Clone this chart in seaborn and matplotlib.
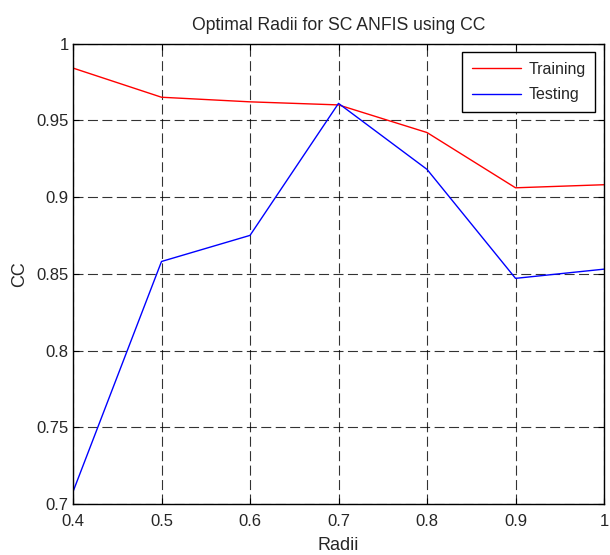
import matplotlib
matplotlib.use("Agg")
import matplotlib.pyplot as plt
import seaborn as sns
import pandas as pd

radii = [0.4, 0.5, 0.6, 0.7, 0.8, 0.9, 1.0]
training = [0.984, 0.965, 0.962, 0.960, 0.942, 0.906, 0.908]
testing = [0.708, 0.858, 0.875, 0.961, 0.918, 0.847, 0.853]
xticks = [0.4, 0.5, 0.6, 0.7, 0.8, 0.9, 1.0]
xticklabels = ["0.4", "0.5", "0.6", "0.7", "0.8", "0.9", "1"]
yticks = [0.7, 0.75, 0.8, 0.85, 0.9, 0.95, 1.0]
yticklabels = ["0.7", "0.75", "0.8", "0.85", "0.9", "0.95", "1"]

df = pd.DataFrame({
    "Radii": radii * 2,
    "CC": training + testing,
    "Set": ["Training"] * len(radii) + ["Testing"] * len(radii),
})

sns.set_style("white")
plt.rcParams['font.family'] = ['Liberation Sans', 'DejaVu Sans']

fig = plt.figure(figsize=(6.10, 5.55), dpi=100)
ax = fig.add_axes([0.1197, 0.0919, 0.8705, 0.8297])

sns.lineplot(data=df, x="Radii", y="CC", hue="Set",
             palette={"Training": "#ff0000", "Testing": "#0000ff"},
             linewidth=1.0, ax=ax)

ax.set_xlim(0.4, 1.0)
ax.set_ylim(0.7, 1.0)
ax.set_xticks(xticks)
ax.set_xticklabels(xticklabels, fontsize=12)
ax.set_yticks(yticks)
ax.set_yticklabels(yticklabels, fontsize=12)
ax.grid(True, linestyle=(0, (9, 4)), color="black", linewidth=0.8, alpha=0.8)
ax.set_axisbelow(True)
for s in ax.spines.values():
    s.set_color("black")
    s.set_linewidth(1.0)
ax.tick_params(direction="in", length=4, color="black",
               top=True, right=True, bottom=True, left=True)
ax.tick_params(axis="x", pad=7)
ax.tick_params(axis="y", pad=3)

ax.set_xlabel("Radii", fontsize=13, labelpad=6)
ax.set_ylabel("CC", fontsize=13, labelpad=6)
ax.set_title("Optimal Radii for SC ANFIS using CC", fontsize=12.7, pad=10)

leg = ax.legend(loc="upper right", fontsize=11.5, fancybox=False, framealpha=1,
                edgecolor="black", borderaxespad=0.55, borderpad=0.6,
                handlelength=3.1, handletextpad=0.45, labelspacing=0.65)
leg.get_frame().set_linewidth(1.0)

fig.savefig("out.png", dpi=100)
